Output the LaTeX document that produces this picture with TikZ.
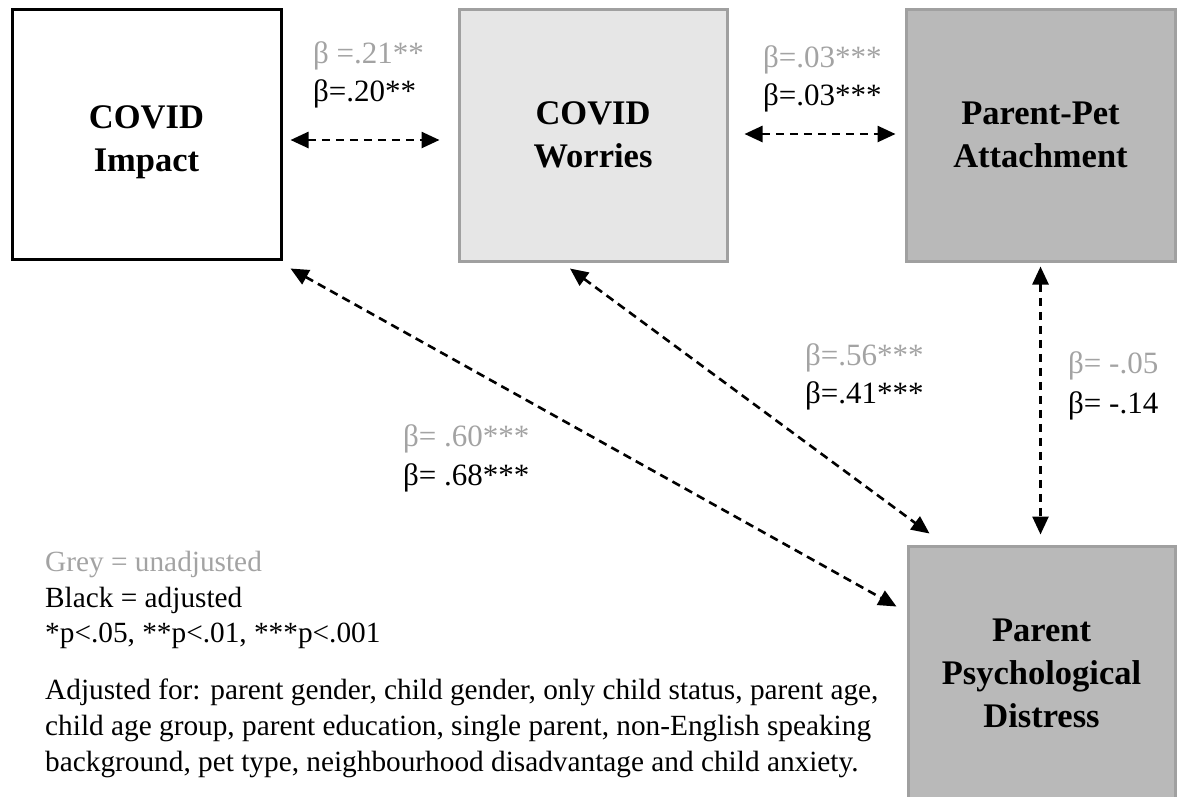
\documentclass[tikz,border=0pt]{standalone}
\usepackage{fontspec}
\setmainfont{Liberation Serif}
\usetikzlibrary{arrows.meta,calc}
\definecolor{lgrey}{HTML}{E6E6E6}
\definecolor{mgrey}{HTML}{B9B9B9}
\definecolor{bgrey}{HTML}{A0A0A0}
\definecolor{tgrey}{HTML}{A3A3A3}
\tikzset{
  box/.style={rectangle, inner sep=0pt, line width=3pt, align=center,
    font=\fontsize{34.5}{43}\selectfont\bfseries},
  dbl/.style={arrows={Triangle[length=18pt,width=16pt]-Triangle[length=18pt,width=16pt]},
    line width=2.6pt, dash pattern=on 8.5pt off 5.5pt},
  lab/.style={anchor=base west, inner sep=0pt, font=\fontsize{31}{38}\selectfont},
  leg/.style={anchor=base west, inner sep=0pt, font=\fontsize{29.3}{35}\selectfont},
}
\begin{document}
\begin{tikzpicture}[x=1pt,y=-1pt]
\useasboundingbox (0,0) rectangle (1178,796);
\node[box, draw=black, fill=white, minimum width=269pt, minimum height=250pt] (imp) at (146.5,134) {\rule{0pt}{40pt}COVID\\Impact};
\node[box, draw=bgrey, fill=lgrey, minimum width=268pt, minimum height=252pt] (wor) at (593,135) {COVID\\Worries};
\node[box, draw=bgrey, fill=mgrey, minimum width=269pt, minimum height=252pt] (att) at (1040.5,135) {Parent-Pet\\Attachment};
\node[box, draw=bgrey, fill=mgrey, minimum width=267pt, minimum height=254pt] (dis) at (1041.5,673) {Parent\\Psychological\\Distress};

\draw[dbl] ($(imp.east)+(8,6)$) -- ($(wor.west)+(-18,5)$);
\draw[dbl] ($(wor.east)+(16,-1)$) -- ($(att.west)+(-9,-1)$);
\draw[dbl] ($(imp.south east)+(8,8)$) -- ($(dis.north west)+(-10,62)$);
\draw[dbl] ($(wor.south)+(-23,6)$) -- ($(dis.north west)+(23,-11)$);
\draw[dbl] ($(att.south)+(0,4)$) -- ($(dis.north)+(-1,-10)$);

\node[lab, text=tgrey] (l1g) at (313,63) {β =.21**};
\node[lab] (l1b) at (313,101) {β=.20**};
\node[lab, text=tgrey] (l2g) at (763,67) {β=.03***};
\node[lab] (l2b) at (763,105) {β=.03***};
\node[lab, text=tgrey] (l3g) at (805,365) {β=.56***};
\node[lab] (l3b) at (805,403) {β=.41***};
\node[lab, text=tgrey] (l4g) at (1068,373) {β= -.05};
\node[lab] (l4b) at (1068,413) {β= -.14};
\node[lab, text=tgrey] (l5g) at (403,446) {β= .60***};
\node[lab] (l5b) at (403,485) {β= .68***};

\node[leg, text=tgrey] (g1) at (45,571) {Grey = unadjusted};
\node[leg] (g2) at (45,607) {Black = adjusted};
\node[leg] (g3) at (45,642) {*p<.05, **p<.01, ***p<.001};
\node[leg] (a1) at (45,699) {Adjusted for: parent gender, child gender, only child status, parent age,};
\node[leg] (a2) at (45,735) {child age group, parent education, single parent, non-English speaking};
\node[leg] (a3) at (45,771) {background, pet type, neighbourhood disadvantage and child anxiety.};
\end{tikzpicture}
\end{document}
